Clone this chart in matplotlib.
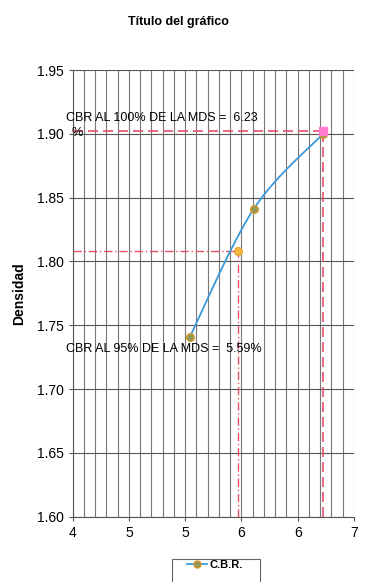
import numpy as np
import matplotlib
matplotlib.use("Agg")
import matplotlib.pyplot as plt
from matplotlib.patches import Rectangle
from matplotlib.ticker import FixedLocator, FuncFormatter

plt.rcParams['font.family'] = ['Liberation Sans Narrow', 'Liberation Sans', 'DejaVu Sans']

# CBR test points (humedad / CBR vs densidad)
cbr_x = [5.25, 5.93, 6.67]
densidad = [1.741, 1.841, 1.900]

# CBR at 95% and 100% of the maximum dry density
cbr95_x, cbr95_y = 5.76, 1.808
cbr100_x, cbr100_y = 6.665, 1.9025

label_100 = "CBR AL 100% DE LA MDS =  6.23"
label_100_unit = "%"
label_95 = "CBR AL 95% DE LA MDS =  5.59%"

x_min, x_max = 4.0, 7.0
y_min, y_max = 1.60, 1.95

W, H = 366, 582


def smooth(xs, ys, n=40):
    # Catmull-Rom through the points, ends repeated like Excel's smoothed line
    p = np.column_stack([xs, ys])
    p = np.vstack([p[0], p, p[-1]])
    out = []
    for i in range(1, len(p) - 2):
        p0, p1, p2, p3 = p[i - 1], p[i], p[i + 1], p[i + 2]
        t = np.linspace(0, 1, n)[:, None]
        seg = 0.5 * ((2 * p1) + (-p0 + p2) * t + (2 * p0 - 5 * p1 + 4 * p2 - p3) * t ** 2
                     + (-p0 + 3 * p1 - 3 * p2 + p3) * t ** 3)
        out.append(seg)
    out = np.vstack(out)
    return out[:, 0], out[:, 1]


fig = plt.figure(figsize=(W / 100, H / 100), dpi=100)
ax = fig.add_axes([0.1986, 0.1122, 0.7684, 0.7675])

# grid: every 0.12 on x, every 0.05 on y
ax.set_xlim(x_min, x_max)
ax.set_ylim(y_min, y_max)
ax.xaxis.set_major_locator(FixedLocator(np.arange(4.0, 7.01, 0.6)))
ax.xaxis.set_minor_locator(FixedLocator(np.arange(4.0, 7.01, 0.12)))
ax.yaxis.set_major_locator(FixedLocator(np.arange(1.60, 1.951, 0.05)))
ax.xaxis.set_major_formatter(FuncFormatter(lambda v, p: f"{v:.0f}"))
ax.yaxis.set_major_formatter(FuncFormatter(lambda v, p: f"{v:.2f}"))
ax.grid(which='major', axis='y', color='#555555', lw=0.8)
ax.grid(which='both', axis='x', color='#777777', lw=0.8)
ax.tick_params(axis='both', which='major', labelsize=10, length=3, color='#555555')
ax.tick_params(axis='x', which='minor', length=0)
for s in ['top', 'right']:
    ax.spines[s].set_visible(False)
for s in ['left', 'bottom']:
    ax.spines[s].set_color('#555555')

# reference lines for 95% and 100%
red = '#e8506a'
ax.plot([x_min, cbr100_x], [cbr100_y, cbr100_y], color=red, ls=(0, (6, 3)), lw=1.2, zorder=3)
ax.plot([cbr100_x, cbr100_x], [y_min, cbr100_y], color=red, ls=(0, (6, 3)), lw=1.2, zorder=3)
ax.plot([x_min, cbr95_x], [cbr95_y, cbr95_y], color=red, ls=(0, (6, 2, 1, 2)), lw=1.0, zorder=3)
ax.plot([cbr95_x, cbr95_x], [y_min, cbr95_y], color=red, ls=(0, (6, 2, 1, 2)), lw=1.0, zorder=3)

# CBR curve
sx, sy = smooth(cbr_x, densidad)
ax.plot(sx, sy, color='#3a9ad9', lw=1.3, zorder=4)
ax.plot(cbr_x, densidad, ls='none', marker='o', ms=5.5,
        mfc='#8f9a5a', mec='#d9962a', mew=1.0, zorder=5)

ax.plot([cbr95_x], [cbr95_y], ls='none', marker='o', ms=5.5,
        mfc='#f5b942', mec='#e8a030', zorder=5)
ax.plot([cbr100_x], [cbr100_y], ls='none', marker='s', ms=6,
        mfc='#ff7ad0', mec='#ff7ad0', zorder=6)

ax.text(x_min - 0.07, 1.9125, label_100, fontsize=9, va='center', ha='left', zorder=7)
ax.text(x_min - 0.01, 1.9010, label_100_unit, fontsize=9, va='center', ha='left', zorder=7)
ax.text(x_min - 0.07, 1.7314, label_95, fontsize=9, va='center', ha='left', zorder=7)

ax.set_ylabel("Densidad", fontsize=10, fontweight='bold', labelpad=8)
fig.text(0.487, 0.962, "Título del gráfico", ha='center', va='center',
         fontsize=9, fontweight='bold')

# legend box at the bottom (runs past the lower edge)
fig.patches.append(Rectangle((172 / W, -0.02), 88 / W, 0.02 + 23 / H,
                             transform=fig.transFigure, fill=False,
                             edgecolor='#666666', lw=0.8))
handle = plt.Line2D([], [], color='#3a9ad9', lw=1.3, marker='o', ms=5,
                    mfc='#8f9a5a', mec='#d9962a')
leg = fig.legend([handle], ["C.B.R."], loc='center',
                 bbox_to_anchor=(215 / W, 1 - 565 / H), frameon=False,
                 prop={'size': 8, 'weight': 'bold'},
                 handlelength=1.8, handletextpad=0.3, borderpad=0.0)

fig.savefig("out.png", dpi=100)
